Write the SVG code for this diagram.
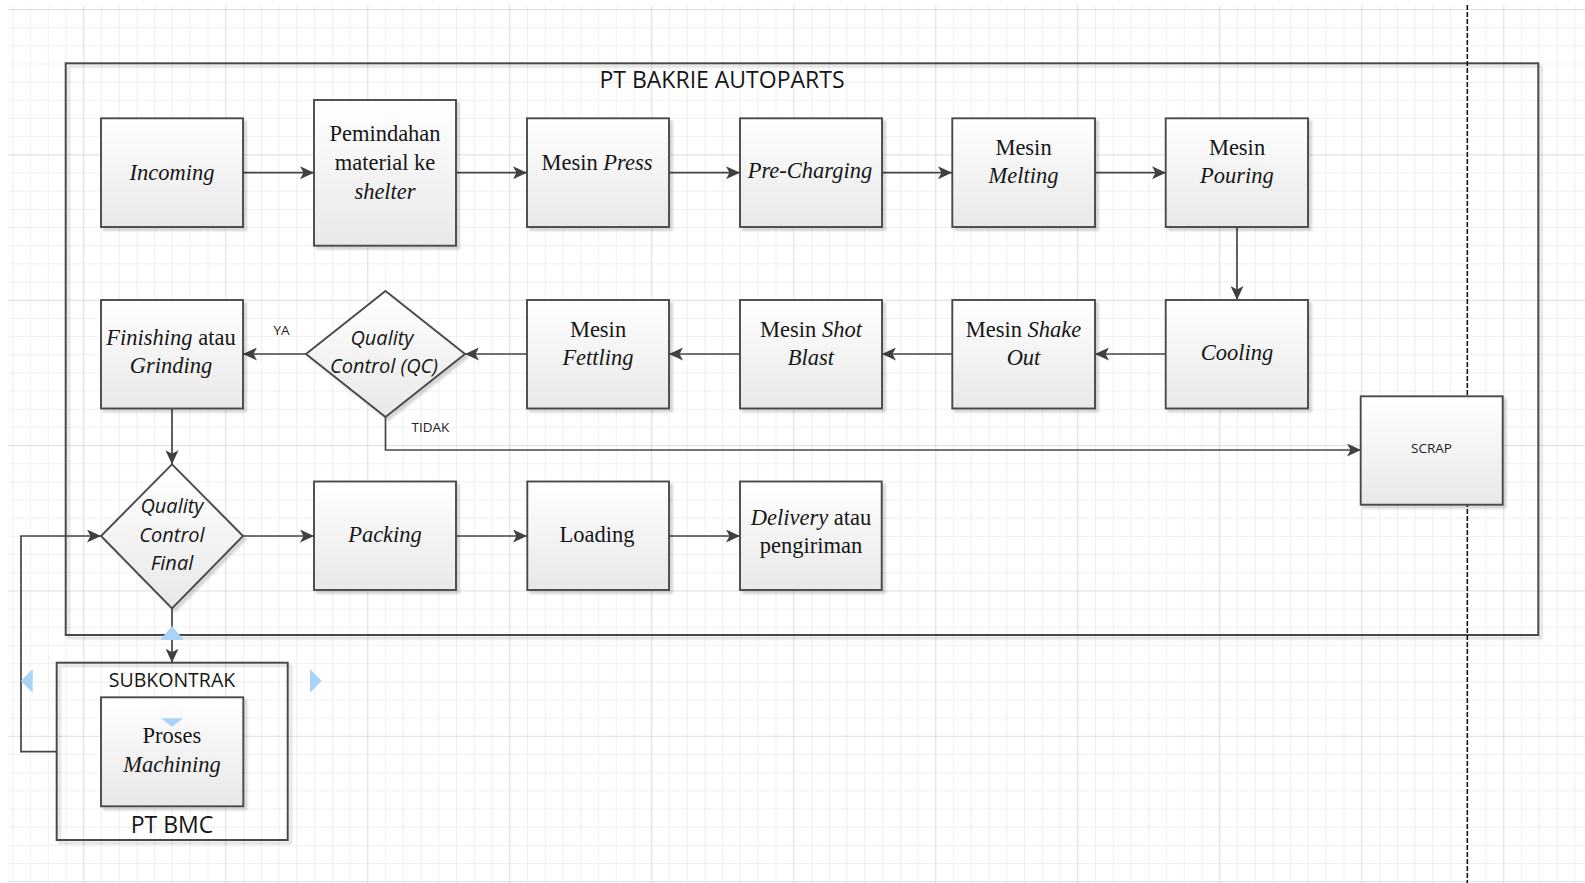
<svg xmlns="http://www.w3.org/2000/svg" width="1585" height="883" viewBox="0 0 1585 883">
<style>
.bx{fill:url(#gr);stroke:#4a4a4a;stroke-width:1.9;filter:url(#sh)}
.frame{fill:none;stroke:#4a4a4a;stroke-width:2;filter:url(#sh)}
.cn{fill:none;stroke:#454545;stroke-width:1.7}
.ar{marker-end:url(#ah)}
.sf{font-family:"Liberation Serif","Times New Roman",serif;font-size:22.5px;fill:#161616;text-anchor:middle}
.it{font-style:italic}
.ss{font-family:"Open Sans","Liberation Sans",sans-serif;fill:#161616;text-anchor:middle}
.dq{font-family:"Open Sans","Liberation Sans",sans-serif;font-style:italic;font-size:20px;fill:#161616;text-anchor:middle}
.lb{font-family:"Open Sans","Liberation Sans",sans-serif;font-size:13.5px;fill:#222}
.hd{fill:#a9d3f7}
</style>
<defs>
<linearGradient id="gr" x1="0" y1="0" x2="0" y2="1">
<stop offset="0" stop-color="#ffffff"/>
<stop offset="1" stop-color="#e8e8e8"/>
</linearGradient>
<filter id="sh" x="-10%" y="-10%" width="130%" height="130%">
<feDropShadow dx="3" dy="3" stdDeviation="1.2" flood-color="#000" flood-opacity="0.16"/>
</filter>
<pattern id="gmin" patternUnits="userSpaceOnUse" x="12.3" y="9" width="17.75" height="18.17">
<path d="M0,0 V18.17 M0,0 H17.75" fill="none" stroke="#e2e2e2" stroke-width="1"/>
</pattern>
<pattern id="gmaj" patternUnits="userSpaceOnUse" x="83.3" y="9" width="142" height="145.36">
<path d="M0,0 V145.36 M0,0 H142" fill="none" stroke="#cfcfcf" stroke-width="1"/>
</pattern>
<marker id="ah" markerUnits="userSpaceOnUse" markerWidth="14" markerHeight="13" refX="14" refY="6.5" orient="auto">
<path d="M0,0 L14,6.5 L0,13 L3.5,6.5 z" fill="#404040"/>
</marker>
</defs>
<rect width="1585" height="883" fill="#fff"/>
<rect x="8" y="5" width="1577" height="878" fill="url(#gmin)"/>
<rect x="8" y="5" width="1577" height="878" fill="url(#gmaj)"/>

<g id="container-bakrie">
<rect class="frame" x="65.7" y="63.3" width="1472.6" height="571.7"/>
<text class="ss" x="722" y="88.3" font-size="23">PT BAKRIE AUTOPARTS</text>
</g>
<line id="divider" x1="1467.3" y1="5" x2="1467.3" y2="883" stroke="#111" stroke-width="1.5" stroke-dasharray="5 2"/>
<g id="container-bmc">
<rect class="frame" x="56.7" y="662.7" width="231" height="177.3"/>
<text class="ss" x="172" y="687.3" font-size="19.5">SUBKONTRAK</text>
<text class="ss" x="172" y="833.3" font-size="23">PT BMC</text>
</g>

<g id="connectors">
<line class="cn ar" x1="243" y1="172.7" x2="314" y2="172.7"/>
<line class="cn ar" x1="456" y1="172.7" x2="527" y2="172.7"/>
<line class="cn ar" x1="669" y1="172.7" x2="740" y2="172.7"/>
<line class="cn ar" x1="882" y1="172.7" x2="952" y2="172.7"/>
<line class="cn ar" x1="1095" y1="172.7" x2="1166" y2="172.7"/>
<line class="cn ar" x1="1237" y1="227" x2="1237" y2="300"/>
<line class="cn ar" x1="1166" y1="354" x2="1095" y2="354"/>
<line class="cn ar" x1="952" y1="354" x2="882" y2="354"/>
<line class="cn ar" x1="740" y1="354" x2="669" y2="354"/>
<line class="cn ar" x1="527" y1="354" x2="465" y2="354"/>
<line class="cn ar" x1="306" y1="354" x2="243" y2="354"/>
<polyline class="cn ar" points="385.5,417 385.5,450 1361,450"/>
<line class="cn ar" x1="172" y1="408.5" x2="172" y2="464.3"/>
<line class="cn ar" x1="243" y1="536" x2="314" y2="536"/>
<line class="cn ar" x1="456" y1="536" x2="527" y2="536"/>
<line class="cn ar" x1="669" y1="536" x2="740" y2="536"/>
<line class="cn ar" x1="172" y1="608.3" x2="172" y2="662.7"/>
<polyline class="cn ar" points="56.7,751.7 21,751.7 21,536 101,536"/>
<text class="lb" x="273.5" y="335">YA</text>
<text class="lb" x="411.5" y="431.7">TIDAK</text>
</g>

<g id="n-incoming"><rect class="bx" x="101" y="118.3" width="142" height="108.7"/>
<text class="sf it" x="172" y="180">Incoming</text></g>
<g id="n-pemindahan"><rect class="bx" x="314" y="100" width="142" height="145.7"/>
<text class="sf" x="385" y="140.7">Pemindahan</text>
<text class="sf" x="385" y="170">material ke</text>
<text class="sf it" x="385" y="199">shelter</text></g>
<g id="n-press"><rect class="bx" x="527" y="118.3" width="142" height="108.7"/>
<text class="sf" x="597" y="170">Mesin <tspan class="it">Press</tspan></text></g>
<g id="n-precharging"><rect class="bx" x="740" y="118.3" width="142" height="108.7"/>
<text class="sf it" x="810" y="178">Pre-Charging</text></g>
<g id="n-melting"><rect class="bx" x="952.3" y="118.3" width="142.7" height="108.7"/>
<text class="sf" x="1023.5" y="155">Mesin</text>
<text class="sf it" x="1023.5" y="183.3">Melting</text></g>
<g id="n-pouring"><rect class="bx" x="1165.7" y="118.3" width="142.3" height="108.7"/>
<text class="sf" x="1237" y="155">Mesin</text>
<text class="sf it" x="1237" y="183.3">Pouring</text></g>

<g id="n-finishing"><rect class="bx" x="101" y="300" width="142" height="108.5"/>
<text class="sf" x="171" y="345"><tspan class="it">Finishing</tspan> atau</text>
<text class="sf it" x="171" y="373.3">Grinding</text></g>
<g id="n-qc"><polygon class="bx" points="385.5,291 465,354 385.5,417 306,354"/>
<text class="dq" x="382" y="345">Quality</text>
<text class="dq" x="384" y="373.3">Control (QC)</text></g>
<g id="n-fettling"><rect class="bx" x="527" y="300" width="142" height="108.5"/>
<text class="sf" x="598" y="336.7">Mesin</text>
<text class="sf it" x="598" y="365">Fettling</text></g>
<g id="n-shotblast"><rect class="bx" x="740" y="300" width="142" height="108.5"/>
<text class="sf" x="811" y="336.7">Mesin <tspan class="it">Shot</tspan></text>
<text class="sf it" x="811" y="365">Blast</text></g>
<g id="n-shakeout"><rect class="bx" x="952.3" y="300" width="142.7" height="108.5"/>
<text class="sf" x="1023.5" y="336.7">Mesin <tspan class="it">Shake</tspan></text>
<text class="sf it" x="1023.5" y="365">Out</text></g>
<g id="n-cooling"><rect class="bx" x="1165.7" y="300" width="142.3" height="108.5"/>
<text class="sf it" x="1237" y="360">Cooling</text></g>

<g id="n-scrap"><rect class="bx" x="1360.7" y="396.3" width="142" height="108.4"/>
<text class="lb" x="1431.5" y="453.3" text-anchor="middle">SCRAP</text></g>

<g id="n-qcfinal"><polygon class="bx" points="172,464.3 243,536 172,608.3 101,536"/>
<text class="dq" x="172" y="513.3">Quality</text>
<text class="dq" x="172" y="541.7">Control</text>
<text class="dq" x="172" y="570">Final</text></g>
<g id="n-packing"><rect class="bx" x="314" y="481.5" width="142" height="108.5"/>
<text class="sf it" x="385" y="541.7">Packing</text></g>
<g id="n-loading"><rect class="bx" x="527.3" y="481.5" width="141.7" height="108.5"/>
<text class="sf" x="597" y="541.7">Loading</text></g>
<g id="n-delivery"><rect class="bx" x="740" y="481.5" width="141.7" height="108.5"/>
<text class="sf" x="811" y="525"><tspan class="it">Delivery</tspan> atau</text>
<text class="sf" x="811" y="553.3">pengiriman</text></g>

<g id="n-machining"><rect class="bx" x="101" y="697.3" width="142.3" height="109"/>
<text class="sf" x="172" y="742.7">Proses</text>
<text class="sf it" x="172" y="771.7">Machining</text></g>

<g id="handles">
<polygon class="hd" points="160,640 184,640 172,626"/>
<polygon class="hd" points="32.7,669 32.7,692.7 20.7,681"/>
<polygon class="hd" points="310,669 310,692.7 321.7,681"/>
<polygon class="hd" points="161,718.3 183.3,718.3 172,727"/>
</g>
</svg>
